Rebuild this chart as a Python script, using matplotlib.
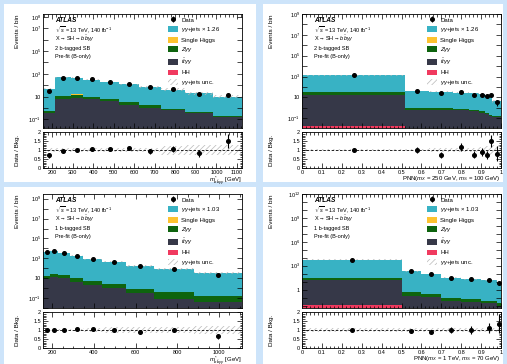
import numpy as np
import matplotlib
matplotlib.use("Agg")
import matplotlib.pyplot as plt
from matplotlib.patches import Rectangle, Patch
from matplotlib.ticker import FixedLocator, MultipleLocator, FuncFormatter, NullFormatter

plt.rcParams['font.family'] = ['Liberation Sans', 'DejaVu Sans']
plt.rcParams['mathtext.fontset'] = 'custom'
plt.rcParams['mathtext.rm'] = 'Liberation Sans'
plt.rcParams['mathtext.it'] = 'Liberation Sans:italic'
plt.rcParams['mathtext.bf'] = 'Liberation Sans:bold'
plt.rcParams['hatch.linewidth'] = 0.5

# colours of the stack
c_yyjets = '#38b2c4'
c_singleh = '#fdc32f'
c_zyy = '#0e640e'
c_ttyy = '#363848'
c_hh = '#f03a5f'
c_unc = '#b8b8b8'

# ---- 2 b-tagged SB, m*_bbyy ----
tl_edges = [155, 215, 290, 350, 435, 525, 625, 730, 845, 985, 1125]
tl_yyjets = [46.5, 468, 435, 290, 184, 113, 67, 40, 20.5, 9.8]
tl_singleh = [0.001, 0.02, 0.02, 0.015, 0.01, 0.005, 0.003, 0.002, 0.001, 0.0005]
tl_zyy = [0.14, 6.5, 7.3, 3.1, 1.6, 1.5, 0.61, 0.25, 0.14, 0.03]
tl_ttyy = [0.38, 5.5, 7.7, 6.3, 3.9, 1.7, 1.04, 0.6, 0.33, 0.17]
tl_hh = [0.0, 0.0, 0.0, 0.0, 0.0, 0.0, 0.0, 0.0, 0.0, 0.0]
tl_data = [33, 456, 450, 315, 200, 126, 63, 43, 17, 15]
tl_unc = [0.1, 0.1, 0.1, 0.1, 0.1, 0.12, 0.12, 0.25, 0.3, 0.3]

# ---- 2 b-tagged SB, PNN(250, 100) ----
tr_edges = [0, 0.52, 0.64, 0.76, 0.84, 0.89, 0.92, 0.94, 0.955, 1.0]
tr_yyjets = [1268, 39, 35, 26, 23.4, 19.5, 17.6, 11.8, 4.3]
tr_singleh = [0.05, 0.002, 0.002, 0.002, 0.002, 0.002, 0.002, 0.001, 0.001]
tr_zyy = [14, 0.37, 0.3, 0.25, 0.15, 0.15, 0.1, 0.05, 0.03]
tr_ttyy = [18, 0.63, 0.6, 0.55, 0.45, 0.35, 0.25, 0.15, 0.12]
tr_hh = [0.0195, 0, 0, 0, 0, 0, 0, 0, 0]
tr_data = [1300, 40, 26, 31, 18, 18, 13, 18, 3.5]
tr_unc = [0.05, 0.05, 0.1, 0.1, 0.1, 0.15, 0.2, 0.25, 0.3]

# ---- 1 b-tagged SB, m*_bbyy ----
bl_edges = [155, 189, 227, 285, 349, 438, 553, 688, 880, 1110]
bl_yyjets = [4585, 5775, 3380, 1790, 825, 447, 174, 80.5, 31.8]
bl_singleh = [0.03, 0.05, 0.04, 0.02, 0.01, 0.005, 0.002, 0.001, 0.0005]
bl_zyy = [7.1, 11.5, 10, 5.4, 3.3, 1.5, 0.48, 0.33, 0.12]
bl_ttyy = [7.9, 13.5, 10, 4.6, 2.1, 1.0, 0.3, 0.09, 0.04]
bl_hh = [0, 0, 0, 0, 0, 0, 0, 0, 0]
bl_data = [4600, 5800, 3400, 1890, 855, 450, 152, 79, 21]
bl_unc = [0.08, 0.08, 0.08, 0.08, 0.1, 0.15, 0.15, 0.18, 0.2]

# ---- 1 b-tagged SB, PNN(1000, 70) ----
br_edges = [0, 0.5, 0.6, 0.7, 0.8, 0.9, 0.98, 1.0]
br_yyjets = [5969, 204.5, 94.7, 30.9, 18.9, 14.26, 4.88]
br_singleh = [0.05, 0.002, 0.001, 0.0005, 0.0003, 0.0002, 0.0001]
br_zyy = [16.5, 0.35, 0.2, 0.062, 0.034, 0.017, 0.01]
br_ttyy = [14.5, 0.15, 0.12, 0.038, 0.029, 0.021, 0.01]
br_hh = [0.011, 0, 0, 0, 0, 0, 0]
br_data = [6000, 190, 87, 31, 19, 16, 6.6]
br_unc = [0.1, 0.1, 0.1, 0.1, 0.1, 0.1, 0.1]

W, H = 507, 364
fig = plt.figure(figsize=(W / 100, H / 100), dpi=100)
fig.patch.set_facecolor('#cde4fa')


def box(x0, y0, x1, y1):
    return [x0 / W, 1 - y1 / H, (x1 - x0) / W, (y1 - y0) / H]


# white page areas behind the plots
for x0, y0, x1, y1 in [(4, 4, 256, 182), (263, 4, 503, 182),
                       (4, 187, 256, 364), (263, 187, 503, 364)]:
    fig.patches.append(Rectangle((x0 / W, 1 - y1 / H), (x1 - x0) / W, (y1 - y0) / H,
                                 transform=fig.transFigure, facecolor='white',
                                 edgecolor='none', zorder=-10))


def style_axis(ax):
    ax.tick_params(which='both', direction='in', top=True, right=True,
                   labelsize=4.0, width=0.5, pad=1.5)
    ax.tick_params(which='major', length=3.5)
    ax.tick_params(which='minor', length=1.8)
    for s in ax.spines.values():
        s.set_linewidth(0.6)


def log_label(labelled):
    def fmt(v, pos):
        e = int(round(np.log10(v)))
        if e not in labelled:
            return ''
        if e == 0:
            return '1'
        if e == 1:
            return '10'
        return r'$10^{%d}$' % e
    return FuncFormatter(fmt)


def panel(x0, x1, ytop, edges, yyjets, singleh, zyy, ttyy, hh, data, unc,
          ylim, labelled, scale, region, xlim, xmaj, xmin, xlabel, ylab_x):
    edges = np.array(edges, float)
    centres = 0.5 * (edges[1:] + edges[:-1])
    data = np.array(data, float)
    ax = fig.add_axes(box(x0, ytop, x1, ytop + 114))
    rax = fig.add_axes(box(x0, ytop + 118, x1, ytop + 154))

    base = np.full(len(centres), 1e-6)
    total = base.copy()
    for vals, col in [(hh, c_hh), (ttyy, c_ttyy), (zyy, c_zyy),
                      (singleh, c_singleh), (yyjets, c_yyjets)]:
        top = total + np.array(vals, float)
        ax.stairs(top, edges, baseline=total, fill=True, color=col, lw=0)
        total = top
    u = np.array(unc, float)
    ax.stairs(total * (1 + u), edges, baseline=total * (1 - u), fill=True,
              facecolor='none', edgecolor=c_unc, hatch='//////', lw=0)
    eb = ax.errorbar(centres, data, yerr=np.sqrt(data), fmt='o', color='k',
                     ms=2.6, elinewidth=0.8, capsize=0)

    ax.set_yscale('log')
    ax.set_ylim(*ylim)
    ax.set_xlim(*xlim)
    lo, hi = int(np.floor(np.log10(ylim[0]))), int(np.ceil(np.log10(ylim[1])))
    ax.yaxis.set_major_locator(FixedLocator([10.0 ** e for e in range(lo, hi + 1)]))
    ax.yaxis.set_major_formatter(log_label(labelled))
    ax.yaxis.set_minor_locator(FixedLocator([]))
    ax.xaxis.set_major_locator(MultipleLocator(xmaj))
    ax.xaxis.set_minor_locator(MultipleLocator(xmin))
    ax.xaxis.set_major_formatter(NullFormatter())
    style_axis(ax)
    ax.set_ylabel('Events / bin', fontsize=4.6, loc='top')
    ax.yaxis.set_label_coords(ylab_x, 1.0)

    # stat block
    ax.text(0.06, 0.975, 'ATLAS', transform=ax.transAxes, fontsize=4.7,
            fontweight='bold', fontstyle='italic', va='top')
    info = [r'$\sqrt{s}$ = 13 TeV, 140 fb$^{-1}$',
            r'X$\rightarrow$SH$\rightarrow$$b\bar{b}\gamma\gamma$',
            region, 'Pre-fit (B-only)']
    for i, t in enumerate(info):
        ax.text(0.06, 0.84 - i * 0.076, t, transform=ax.transAxes,
                fontsize=4.0, va='baseline')

    handles = [eb, Patch(facecolor=c_yyjets), Patch(facecolor=c_singleh),
               Patch(facecolor=c_zyy), Patch(facecolor=c_ttyy), Patch(facecolor=c_hh),
               Patch(facecolor='none', edgecolor=c_unc, hatch='//////', lw=0)]
    labels = ['Data', r'$\gamma\gamma$+jets $\times$ %s' % scale, 'Single Higgs',
              r'$Z\gamma\gamma$', r'$t\bar{t}\gamma\gamma$', 'HH',
              r'$\gamma\gamma$+jets unc.']
    ax.legend(handles, labels, loc='upper left', bbox_to_anchor=(0.62, 0.985),
              frameon=False, fontsize=4.3, handlelength=1.8, handleheight=1.15,
              labelspacing=0.42, handletextpad=0.5, borderaxespad=0.0,
              borderpad=0.2)

    # ratio panel
    ratio = data / total
    rerr = np.sqrt(data) / total
    rax.stairs(1 + u, edges, baseline=1 - u, fill=True, facecolor='none',
               edgecolor=c_unc, hatch='//////', lw=0)
    rax.axhline(1, color='k', ls=(0, (3, 2)), lw=0.6)
    rax.errorbar(centres, ratio, yerr=rerr, fmt='o', color='k', ms=2.6,
                 elinewidth=0.8, capsize=0)
    rax.set_ylim(0, 2)
    rax.set_xlim(*xlim)
    rax.yaxis.set_major_locator(MultipleLocator(0.5))
    rax.yaxis.set_minor_locator(MultipleLocator(0.1))
    rax.yaxis.set_major_formatter(FuncFormatter(lambda v, p: '%g' % v))
    rax.xaxis.set_major_locator(MultipleLocator(xmaj))
    rax.xaxis.set_minor_locator(MultipleLocator(xmin))
    rax.xaxis.set_major_formatter(FuncFormatter(lambda v, p: '%g' % v))
    style_axis(rax)
    rax.set_ylabel('Data / Bkg.', fontsize=4.6)
    rax.yaxis.set_label_coords(ylab_x, 0.5)
    rax.set_xlabel(xlabel, fontsize=4.3, loc='right', labelpad=-0.8)
    return ax, rax


panel(43, 242, 14, tl_edges, tl_yyjets, tl_singleh, tl_zyy, tl_ttyy, tl_hh,
      tl_data, tl_unc, (0.017, 1.8e8), [-1, 1, 3, 5, 7, 8], '1.26',
      '2 b-tagged SB', (155, 1125), 100, 20,
      r'$m^{*}_{b\bar{b}\gamma\gamma}$ [GeV]', -0.115)
panel(302, 501, 14, tr_edges, tr_yyjets, tr_singleh, tr_zyy, tr_ttyy, tr_hh,
      tr_data, tr_unc, (0.0115, 1e9), [-1, 1, 3, 5, 7, 9], '1.26',
      '2 b-tagged SB', (0, 1), 0.1, 0.02,
      r'PNN($m_X$ = 250 GeV, $m_S$ = 100 GeV)', -0.14)
panel(43, 242, 194, bl_edges, bl_yyjets, bl_singleh, bl_zyy, bl_ttyy, bl_hh,
      bl_data, bl_unc, (0.01, 3e9), [-1, 1, 3, 5, 7, 9], '1.03',
      '1 b-tagged SB', (155, 1110), 200, 50,
      r'$m^{*}_{b\bar{b}\gamma\gamma}$ [GeV]', -0.115)
panel(302, 501, 194, br_edges, br_yyjets, br_singleh, br_zyy, br_ttyy, br_hh,
      br_data, br_unc, (0.005, 1e12), [0, 3, 6, 9, 12], '1.03',
      '1 b-tagged SB', (0, 1), 0.1, 0.02,
      r'PNN($m_X$ = 1 TeV, $m_S$ = 70 GeV)', -0.14)

fig.savefig('out.png', dpi=100, facecolor=fig.get_facecolor())
